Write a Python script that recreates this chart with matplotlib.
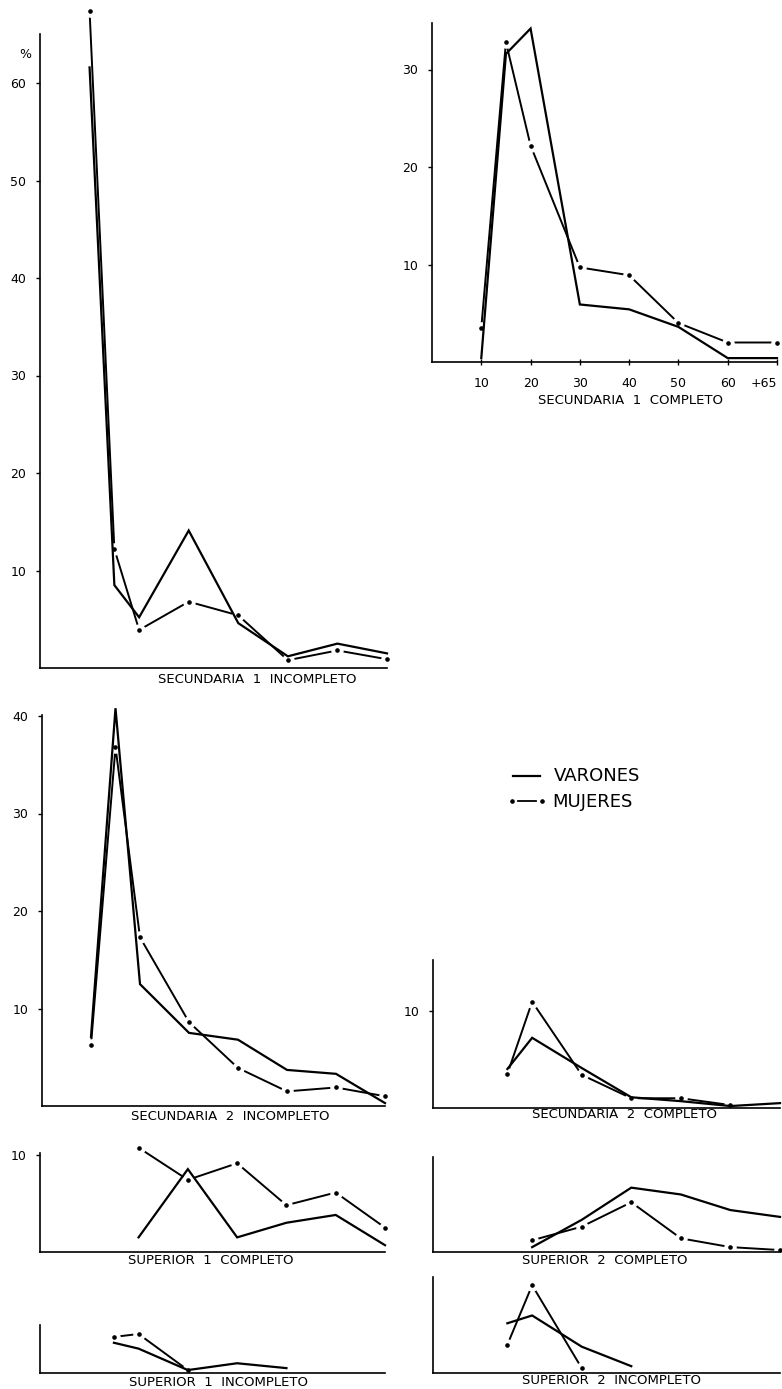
"""
Age profile of students by education level (varones / mujeres), redrawn from a scan.
"""

import numpy as np
import matplotlib

matplotlib.use("Agg")
import matplotlib.pyplot as plt

nan = np.nan

# age groups; "+65" is drawn at 70
ages = [10, 15, 20, 30, 40, 50, 60, 70]
age_ticks = [10, 20, 30, 40, 50, 60, 70]
age_labels = ["10", "20", "30", "40", "50", "60", "+65"]

sec1_inc_var = [61.6, 8.5, 5.2, 14.1, 4.6, 1.2, 2.5, 1.5]
sec1_inc_muj = [67.4, 12.2, 3.9, 6.8, 5.4, 0.8, 1.8, 0.9]

sec1_com_var = [0.4, 31.6, 34.2, 5.9, 5.4, 3.6, 0.4, 0.4]
sec1_com_muj = [3.5, 32.8, 22.2, 9.7, 8.9, 4.0, 2.0, 2.0]

sec2_inc_var = [7.1, 40.8, 12.5, 7.5, 6.8, 3.7, 3.3, 0.3]
sec2_inc_muj = [6.3, 36.8, 17.3, 8.6, 3.9, 1.5, 1.9, 1.0]

sec2_com_var = [nan, 4.0, 7.2, 4.1, 1.1, 0.7, 0.2, 0.5]
sec2_com_muj = [nan, 3.5, 10.9, 3.4, 1.0, 1.0, 0.3, nan]

sup1_com_var = [nan, nan, 1.5, 8.5, 1.5, 3.0, 3.8, 0.7]
sup1_com_muj = [nan, nan, 10.7, 7.4, 9.1, 4.8, 6.1, 2.5]

sup1_inc_var = [nan, 3.1, 2.5, 0.3, 1.0, 0.5, nan, nan]
sup1_inc_muj = [nan, 3.7, 4.0, 0.3, nan, nan, nan, nan]

sup2_com_var = [nan, nan, 0.5, 3.3, 6.6, 5.9, 4.3, 3.6]
sup2_com_muj = [nan, nan, 1.2, 2.6, 5.1, 1.4, 0.5, 0.2]

sup2_inc_var = [nan, 5.1, 5.9, 2.7, 0.7, nan, nan, nan]
sup2_inc_muj = [nan, 2.9, 9.0, 0.5, nan, nan, nan, nan]

W, H = 782, 1389
PX = 9.75  # pixels per percentage point, same in every panel

plt.rcParams["font.family"] = ["DejaVu Sans"]

fig = plt.figure(figsize=(W / 100, H / 100), dpi=100)


def add_panel(left, right, bottom, ytop):
    ax = fig.add_axes([left / W, 1 - bottom / H, (right - left) / W, ytop * PX / H])
    ax.set_xlim(0, 70)
    ax.set_ylim(0, ytop)
    for s in ("top", "right"):
        ax.spines[s].set_visible(False)
    for s in ("left", "bottom"):
        ax.spines[s].set_linewidth(1.2)
        ax.spines[s].set_zorder(3)
    ax.patch.set_alpha(0)
    return ax


def draw_mujeres(ax, vals):
    # hand-drawn dash-dot: segments broken at each vertex, with a dot there
    ax.plot(ages, vals, color="black", lw=1.4, zorder=2, clip_on=False,
            solid_capstyle="butt")
    ax.plot(ages, vals, ls="none", marker="o", ms=8, mfc="white", mec="white",
            zorder=2.1, clip_on=False)
    ax.plot(ages, vals, ls="none", marker="o", ms=2.3, mfc="black", mec="black",
            zorder=2.2, clip_on=False)


def draw_varones(ax, vals):
    ax.plot(ages, vals, color="black", lw=1.6, zorder=2.4, clip_on=False,
            solid_joinstyle="miter")


def panel(box, ytop, var, muj, yticks, title, title_xy, xlabels=False):
    ax = add_panel(*box, ytop)
    draw_mujeres(ax, muj)
    draw_varones(ax, var)
    ax.set_yticks(yticks)
    ax.set_yticklabels([str(t) for t in yticks], fontsize=9)
    ax.tick_params(axis="y", direction="out", length=3, width=1, pad=7)
    if xlabels:
        ax.set_xticks(age_ticks)
        ax.set_xticklabels(age_labels, fontsize=9)
        ax.get_xticklabels()[-1].set_ha("right")
        ax.tick_params(axis="x", direction="inout", length=5, width=1, pad=8)
    else:
        ax.set_xticks([])
    fig.text(title_xy[0] / W, 1 - title_xy[1] / H, title, ha="center", va="center",
             fontsize=9.5)
    return ax


ax1 = panel((40, 387, 668), 65, sec1_inc_var, sec1_inc_muj, [10, 20, 30, 40, 50, 60],
            "SECUNDARIA  1  INCOMPLETO", (257, 680))
fig.text(25 / W, 1 - 55 / H, "%", ha="center", va="center", fontsize=9)

panel((432, 777, 362), 34.8, sec1_com_var, sec1_com_muj, [10, 20, 30],
      "SECUNDARIA  1  COMPLETO", (630, 400), xlabels=True)

panel((42, 385, 1106), 40.1, sec2_inc_var, sec2_inc_muj, [10, 20, 30, 40],
      "SECUNDARIA  2  INCOMPLETO", (230, 1116))

panel((433, 780, 1108), 15.2, sec2_com_var, sec2_com_muj, [10],
      "SECUNDARIA  2  COMPLETO", (624, 1115))

panel((40, 385, 1252), 10.2, sup1_com_var, sup1_com_muj, [10],
      "SUPERIOR  1  COMPLETO", (211, 1260))

panel((40, 385, 1373), 4.9, sup1_inc_var, sup1_inc_muj, [],
      "SUPERIOR  1  INCOMPLETO", (218, 1382))

panel((433, 780, 1252), 9.7, sup2_com_var, sup2_com_muj, [],
      "SUPERIOR  2  COMPLETO", (605, 1260))

panel((433, 780, 1373), 9.85, sup2_inc_var, sup2_inc_muj, [],
      "SUPERIOR  2  INCOMPLETO", (612, 1381))

# legend
leg = fig.add_axes([500 / W, 1 - 815 / H, 160 / W, 55 / H])
leg.set_xlim(500, 660)
leg.set_ylim(815, 760)
leg.axis("off")
leg.plot([513, 540], [776, 776], color="black", lw=1.6)
leg.plot([518, 536], [801, 801], color="black", lw=1.3)
leg.plot([512, 542], [801, 801], ls="none", marker="o", ms=2.3, color="black")
leg.text(554, 776, "VARONES", ha="left", va="center", fontsize=13)
leg.text(552, 802, "MUJERES", ha="left", va="center", fontsize=13)

fig.savefig("out.png", dpi=100)
plt.close(fig)
